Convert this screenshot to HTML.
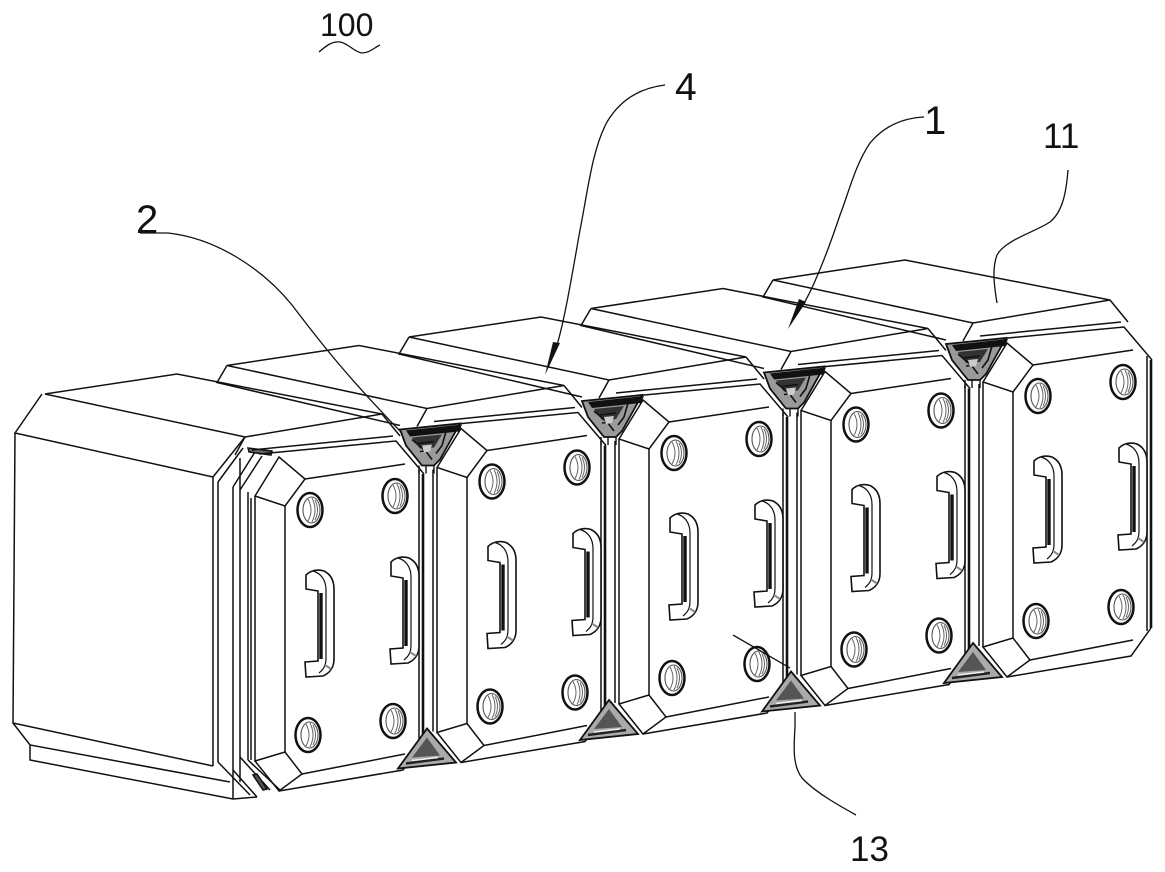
<!DOCTYPE html>
<html><head><meta charset="utf-8"><style>
html,body{margin:0;padding:0;background:#fff;}
svg{display:block;}
text{font-family:"Liberation Sans",sans-serif;fill:#111;}
</style></head><body>
<svg width="1165" height="872" viewBox="0 0 1165 872" xmlns="http://www.w3.org/2000/svg">
<defs>
<g id="hole">
<ellipse rx="12.5" ry="17" fill="#fff" stroke="#111" stroke-width="2.5"/>
<ellipse cx="1.5" rx="8.5" ry="13" fill="none" stroke="#555" stroke-width="1.1"/>
<path d="M-2,-11 Q4,0 -2,11 M2,-12 Q8,0 2,12 M5,-10 Q10,0 5,10" fill="none" stroke="#666" stroke-width="1"/>
</g>
<g id="hdl" fill="none" stroke="#111">
<path d="M1,6 C6,1 13,0 19,2 C25,5 29,11 29,20 L29,90 C29,98 25,104 18,107 L1,108 L0,93 L13,92 L13,22 L1,20 Z" stroke-width="1.6" fill="#fff"/>
<path d="M8,2 C15,4 21,10 21,21 L21,89 C21,96 19,100 14,104" stroke-width="1.2"/>
<path d="M16,24 L16,90" stroke-width="3.4"/>
<path d="M20,96 L26,100" stroke="#888" stroke-width="2"/>
</g>
<g id="m" fill="none" stroke="#111" stroke-width="1.5">
<polygon points="-265,-116 -133,-136 72,-96 -65,-73"/>
<path d="M72,-96 L90,-74 M-65,-73 L-75,-55"/>
<path d="M-58,-60 L83,-74 M-51,-56 L86,-69 L114,-36"/>
<polygon points="-55,-14 -31,-53 -5,-31 -25,-4"/>
<path d="M-5,-31 L95,-46"/>
<path d="M-55,-14 L-55,251 M-59,-12 L-59,250 M-25,-4 L-25,242"/>
<polygon points="-55,251 -25,242 -8,264 -31,281"/>
<path d="M-8,264 L95,244 M-31,281 L93,260 L113,232"/>
<path d="M109,-40 L109,235"/>
<path d="M113,-36 L113,232" stroke-width="2.6"/>
<use href="#hole" x="0" y="0"/>
<use href="#hole" x="85" y="-14"/>
<use href="#hole" x="-2" y="225"/>
<use href="#hole" x="83" y="211"/>
<use href="#hdl" x="-5" y="59"/>
<use href="#hdl" x="80" y="46"/>
</g>
<g id="j">
<path d="M-265,-116 L-275,-99 L-92,-56" fill="none" stroke="#111" stroke-width="1.5"/>
<polygon points="-92,-52 -32,-58 -52,-22 -58,-16 -70,-16 -86,-36" fill="#9a9a9a" stroke="#111" stroke-width="1.8"/>
<polygon points="-86,-51 -30,-57 -33,-50 -82,-45" fill="#111"/>
<polygon points="-80,-44 -50,-47 -58,-34 -72,-33" fill="#333"/>
<path d="M-80,-42 L-66,-30 L-60,-22 M-46,-50 L-50,-36 L-56,-28 M-74,-38 L-58,-40 M-72,-30 L-62,-31" fill="none" stroke="#111" stroke-width="1.6"/>
<polygon points="-70,-36 -60,-37 -62,-30 -68,-29" fill="#ccc"/>
<path d="M-73,-16 L-73,-8 M-66,-16 L-66,-8 M-58,-17 L-58,-8" stroke="#111" stroke-width="1.4"/>
<polygon points="-65,247 -94,287 -36,281" fill="#aaa" stroke="#111" stroke-width="1.8"/>
<polygon points="-65,256 -80,276 -52,274" fill="#555"/>
<path d="M-86,282 L-48,277" stroke="#222" stroke-width="2.4"/>
<path d="M-80,279 L-54,276" stroke="#eee" stroke-width="1.5"/>
</g>
</defs>

<!-- module A left side / body -->
<g fill="none" stroke="#111" stroke-width="1.5">
<path d="M42,394 L15,433 L213,477 M15,433 L13,723 L213,766 M213,477 L213,766"/>
<path d="M13,723 L30,745 L230,782 M30,745 L30,760 L233,799 L257,797"/>
<path d="M245,437 L213,477"/>
<path d="M218,482 L218,762 M233,487 L233,799 M240,458 L240,782 M248,492 L248,760"/>
<path d="M218,482 L243,448 M233,487 L255,452 M240,490 L262,456"/>
<polygon points="248,448 272,451 271,455 249,452" fill="#666"/>
<path d="M218,762 L250,795 M233,770 L257,797 M240,757 L270,790 M248,760 L280,790"/>
<polygon points="253,775 257,774 267,789 263,790" fill="#555"/>
</g>

<!-- modules -->
<use href="#m" transform="translate(310,510)"/>
<use href="#m" transform="translate(492,481.5)"/>
<use href="#m" transform="translate(674,453)"/>
<use href="#m" transform="translate(856,424.5)"/>
<use href="#m" transform="translate(1038,396)"/>
<use href="#j" transform="translate(492,481.5)"/>
<use href="#j" transform="translate(674,453)"/>
<use href="#j" transform="translate(856,424.5)"/>
<use href="#j" transform="translate(1038,396)"/>

<!-- leaders -->
<g fill="none" stroke="#111" stroke-width="1.3">
<path d="M140,233 L168,233 C215,238 262,268 292,305 C320,342 350,380 402,433"/>
<path d="M665,85 C640,88 620,100 607,122 C592,150 588,190 580,230 C572,275 565,318 557,345"/>
<path d="M924,117 C905,118 885,125 870,143 C855,165 848,195 840,215 C830,245 815,285 803,305"/>
<path d="M1068,170 C1066,195 1062,212 1050,222 C1035,232 1005,240 997,255 C992,268 994,285 997,303"/>
<path d="M733,635 L790,668"/>
<path d="M795,712 L795,727 C794,745 792,765 802,778 C815,792 838,805 856,815"/>
<path d="M319,52 C326,46 332,41 340,42 C348,43 354,52 362,53 C369,53 374,48 380,45"/>
</g>
<polygon points="560,343 553,342 545,375" fill="#111"/>
<polygon points="806,302 799,299 788,329" fill="#111"/>

<!-- labels -->
<text x="320" y="36" font-size="32">100</text>
<text x="675" y="100" font-size="39">4</text>
<text x="924" y="134" font-size="40">1</text>
<text x="1043" y="148" font-size="35">11</text>
<text x="136" y="233" font-size="40">2</text>
<text x="850" y="861" font-size="35">13</text>
</svg>
</body></html>
